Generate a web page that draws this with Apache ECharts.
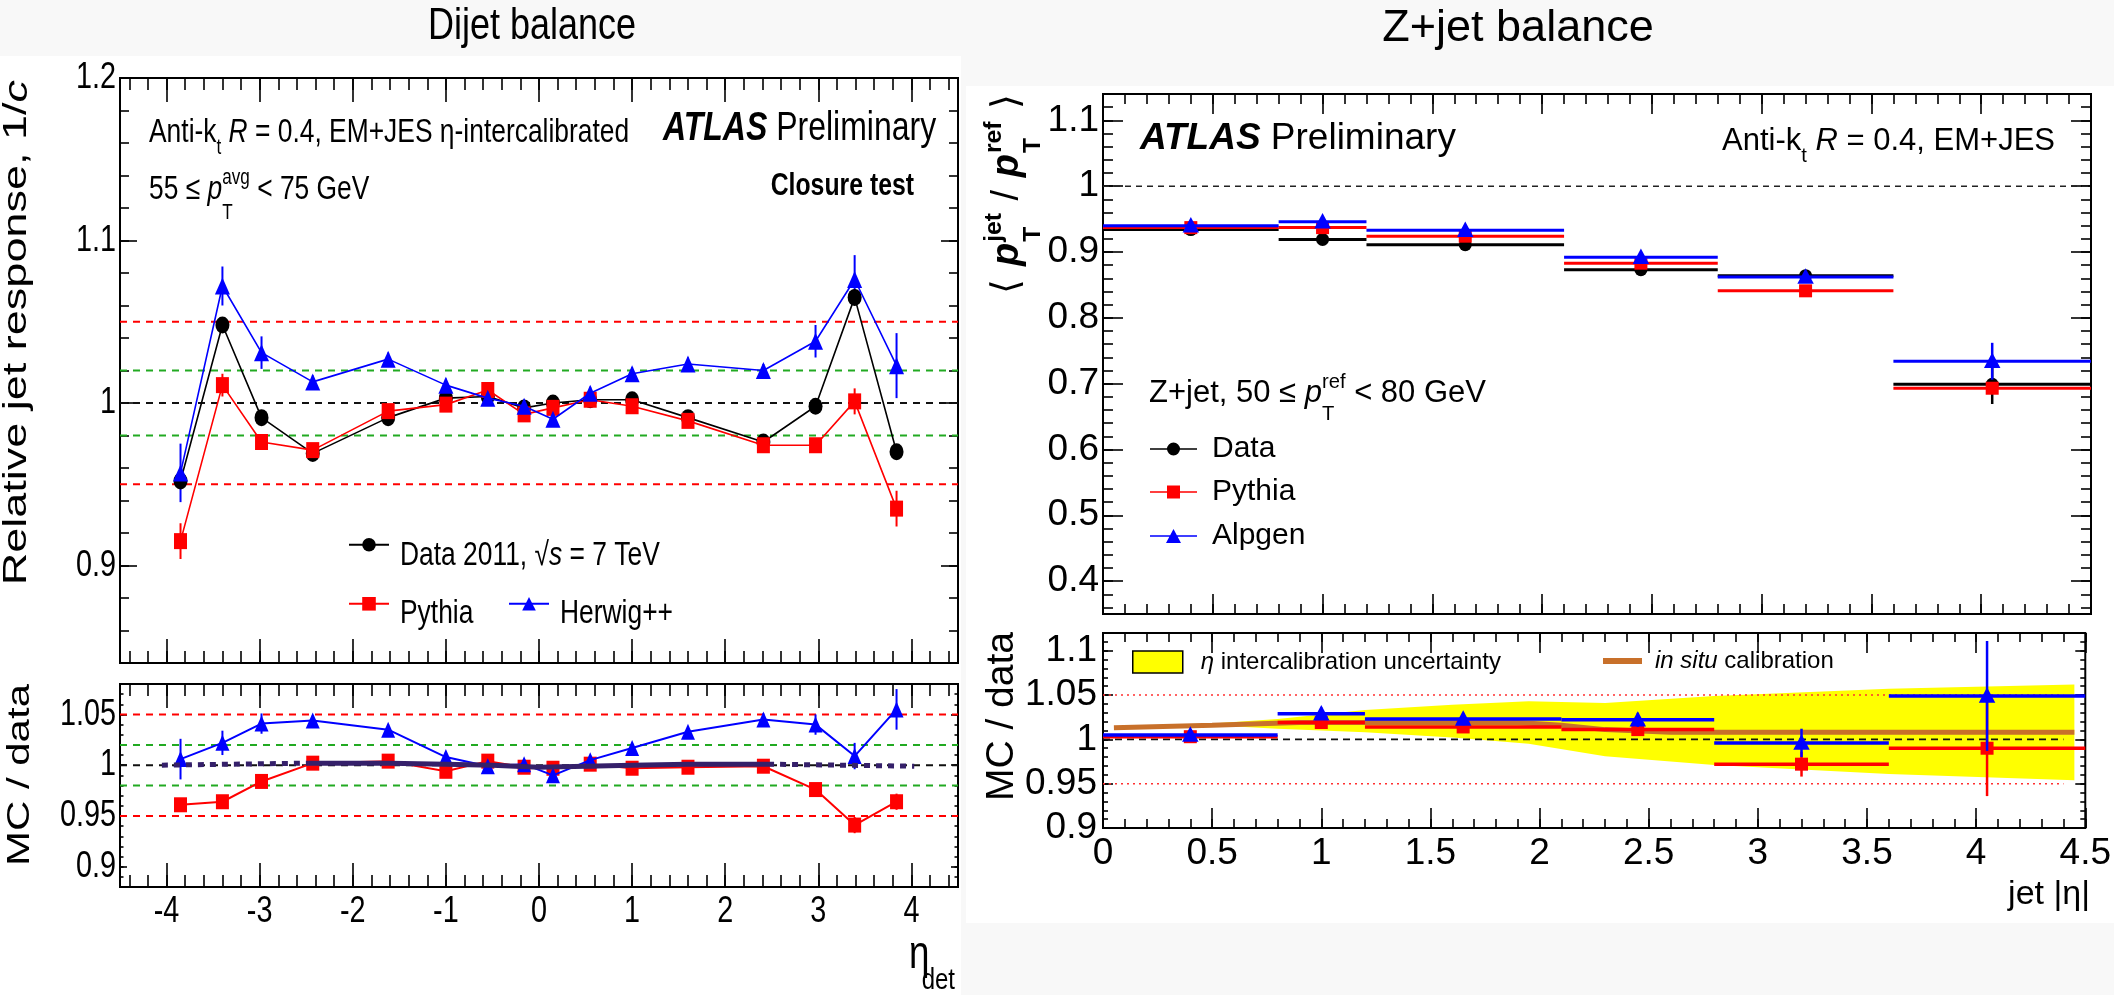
<!DOCTYPE html>
<html><head><meta charset="utf-8">
<script src="https://cdn.jsdelivr.net/npm/echarts@6/dist/echarts.min.js"></script>
<style>html,body{margin:0;padding:0;background:#f8f8f8}#c{width:2114px;height:995px}</style>
</head><body><div id="c"></div>
<script>
// ===================== DATA =====================
// Dijet balance (left)
const etaDet = [-3.85,-3.4,-2.98,-2.43,-1.62,-1.0,-0.55,-0.16,0.15,0.55,1.0,1.6,2.41,2.97,3.39,3.84];
const dijetData    = [0.952,1.048,0.991,0.969,0.991,1.003,1.004,0.997,1.000,1.002,1.002,0.991,0.976,0.998,1.065,0.970];
const dijetDataErr = [0.004,0.004,0.003,0.003,0.002,0.002,0.002,0.002,0.002,0.002,0.002,0.002,0.003,0.003,0.005,0.004];
const dijetPythia    = [0.915,1.011,0.976,0.971,0.995,0.999,1.008,0.993,0.997,1.002,0.998,0.989,0.974,0.974,1.001,0.935];
const dijetPythiaErr = [0.011,0.007,0.004,0.003,0.003,0.003,0.003,0.003,0.003,0.003,0.003,0.003,0.003,0.004,0.008,0.011];
const dijetHerwig    = [0.957,1.072,1.031,1.013,1.027,1.011,1.003,0.998,0.990,1.006,1.018,1.024,1.020,1.038,1.076,1.023];
const dijetHerwigErr = [0.018,0.012,0.010,0.004,0.004,0.004,0.004,0.004,0.004,0.004,0.004,0.004,0.004,0.010,0.015,0.020];
const ratioPythia    = [0.961,0.964,0.984,1.002,1.004,0.994,1.004,0.998,0.997,1.001,0.997,0.998,0.999,0.976,0.941,0.964];
const ratioPythiaErr = [0.006,0.006,0.005,0.004,0.004,0.004,0.004,0.004,0.004,0.004,0.004,0.004,0.004,0.005,0.008,0.008];
const ratioHerwig    = [1.006,1.022,1.041,1.044,1.035,1.008,0.999,1.001,0.990,1.005,1.017,1.033,1.045,1.040,1.009,1.055];
const ratioHerwigErr = [0.020,0.012,0.010,0.005,0.005,0.005,0.005,0.005,0.005,0.005,0.005,0.005,0.006,0.010,0.013,0.020];
const refEtaSolid = [-2.48,-1.6,-1.0,-0.5,0.0,0.5,1.0,1.6,2.46];
const refValSolid = [1.002,1.002,1.001,1.000,0.998,0.999,1.000,1.001,1.001];
const refEtaLeft = [-4.05,-2.48], refValLeft = [1.000,1.002];
const refEtaRight = [2.46,4.03],  refValRight = [1.001,0.999];
const dijetLevels = [1.05,0.95,1.02,0.98,1.0];
// tick labels of the (horizontally compressed) dijet panel
const leftTopYTicks = [0.9,1.0,1.1,1.2];
const leftBottomYTicks = [0.9,0.95,1.0,1.05];
const leftXTicks = [-4,-3,-2,-1,0,1,2,3,4];

// Z+jet balance (right)
const binLo = [0,0.8,1.2,2.1,2.8,3.6];
const binHi = [0.8,1.2,2.1,2.8,3.6,4.5];
const binCenter = [0.4,1.0,1.65,2.45,3.2,4.05];
const zData      = [0.934,0.919,0.911,0.873,0.864,0.699];
const zDataErr   = [0.003,0.004,0.004,0.004,0.005,0.030];
const zPythia    = [0.937,0.937,0.924,0.883,0.841,0.693];
const zPythiaErr = [0.004,0.004,0.004,0.004,0.005,0.008];
const zAlpgen    = [0.940,0.946,0.933,0.892,0.862,0.734];
const zAlpgenErr = [0.006,0.006,0.006,0.006,0.008,0.028];
const zRatioPythia    = [1.003,1.019,1.014,1.011,0.972,0.990];
const zRatioPythiaErr = [0.005,0.006,0.006,0.006,0.014,0.054];
const zRatioAlpgen    = [1.005,1.029,1.023,1.022,0.996,1.049];
const zRatioAlpgenErr = [0.006,0.007,0.007,0.008,0.016,0.062];
const bandEta = [0.5,0.8,1.2,1.6,1.95,2.3,2.8,3.6,4.45];
const bandLo  = [1.016,1.012,1.008,1.002,0.995,0.981,0.971,0.961,0.954];
const bandHi  = [1.018,1.023,1.033,1.039,1.043,1.041,1.049,1.057,1.062];
const insituEta = [0.05,0.5,0.9,1.5,1.9,2.1,2.3,2.6,4.45];
const insituVal = [1.013,1.016,1.019,1.019,1.019,1.016,1.011,1.008,1.008];

// ===================== HELPERS =====================
const FAM = "'Liberation Sans', Arial, Helvetica, sans-serif";
const RED = '#ff0000', BLUE = '#0000ff', BLACK = '#000000', GREEN = '#22aa22', ORANGE = '#c8702a', YELLOW = '#ffff00', DARK = '#35206a';
const SX = 0.8; // the dijet panel is horizontally compressed
const cv = document.createElement('canvas').getContext('2d');
function fstr(size, o) { return (o.it ? 'italic ' : '') + (o.b ? 'bold ' : '') + size.toFixed(1) + 'px ' + FAM; }
function measure(t, f) { cv.font = f; return cv.measureText(t).width; }
function textRun(parts, size, opt) {
  const ls = opt.ls || 0, fill = opt.fill || '#000';
  const subOff = opt.subOff || 0.36, bothOff = opt.bothOff || 0.55;
  const kids = []; let x = 0;
  const put = (t, f, sz, dx, dy) => kids.push({type:'text', x:dx, y:dy - 0.35*sz, silent:true,
    style:{text:t, font:f, fill:fill, align:'left', verticalAlign:'middle', textAlign:'left', textVerticalAlign:'middle'}});
  for (let p of parts) {
    if (typeof p === 'string') p = {t:p};
    if (p.sub != null || p.sup != null) {
      const s = size*0.65, f = fstr(s, p); let wm = 0;
      const both = p.sub != null && p.sup != null;
      if (p.sub != null) { put(p.sub, f, s, x, size*(both ? bothOff : subOff)); wm = Math.max(wm, measure(p.sub, f)); }
      if (p.sup != null) { put(p.sup, f, s, x, -size*0.47); wm = Math.max(wm, measure(p.sup, f)); }
      x += wm + ls;
    } else {
      const f = fstr(size, p);
      if (ls) { for (const ch of p.t) { put(ch, f, size, x, 0); x += measure(ch, f) + ls; } }
      else { put(p.t, f, size, x, 0); x += measure(p.t, f); }
    }
  }
  if (ls) x -= ls;
  return {kids, w:x};
}
function label(x, y, parts, size, opt) {
  opt = opt || {};
  const r = textRun(parts, size, opt);
  const off = opt.align === 'right' ? -r.w : opt.align === 'center' ? -r.w/2 : 0;
  r.kids.forEach(k => { k.x += off; });
  return {type:'group', x:x, y:y, rotation:opt.rot || 0, scaleX:opt.sx || 1, scaleY:opt.sy || 1, children:r.kids, silent:true, z:100};
}

const gridBoxes = [
  {left:120, top:78, width:838, height:585},
  {left:120, top:684, width:838, height:203},
  {left:1103, top:94, width:988, height:520},
  {left:1103, top:633, width:988, height:195}
];
const axisSpec = [
  {x:{min:-4.5,max:4.5,major:1,minor:0.2,maj:24,mn:12,labels:false}, y:{min:0.84,max:1.2,major:0.1,minor:0.02,maj:17,mn:9,labels:false}},
  {x:{min:-4.5,max:4.5,major:1,minor:0.2,maj:24,mn:12,labels:false}, y:{min:0.88,max:1.08,major:0.05,minor:0.01,maj:7,mn:3.5,labels:false}},
  {x:{min:0,max:4.5,major:0.5,minor:0.1,maj:20,mn:10,labels:false}, y:{min:0.35,max:1.14,major:0.1,minor:0.02,maj:20,mn:10,labels:true,size:37,margin:4}},
  {x:{min:0,max:4.5,major:0.5,minor:0.1,maj:20,mn:9,labels:true,size:37,margin:7}, y:{min:0.9,max:1.12,major:0.05,minor:0.01,maj:10,mn:5,labels:true,size:37,margin:6}}
];
function fmtTick(step) {
  return v => { const r = v/step; if (Math.abs(r - Math.round(r)) > 1e-6) return ''; return String(parseFloat(v.toFixed(4))); };
}
function makeAxes(dim, g, sp) {
  const out = [];
  const pos = dim === 'x' ? ['bottom','top'] : ['left','right'];
  pos.forEach((p, pi) => {
    [[sp.major, sp.maj, pi === 0 && sp.labels], [sp.minor, sp.mn, false]].forEach(([iv, len, lab]) => {
      out.push({
        type:'value', gridIndex:g, position:p, offset:0, min:sp.min, max:sp.max,
        minInterval:iv, maxInterval:iv, splitNumber:Math.round((sp.max - sp.min)/iv),
        axisLine:{show:false, onZero:false}, splitLine:{show:false}, splitArea:{show:false},
        axisTick:{show:true, inside:true, length:len, lineStyle:{color:'#000', width:1.6}},
        axisLabel:{show:lab, margin:sp.margin || 4, color:'#000', fontSize:sp.size || 34, fontFamily:FAM, formatter:fmtTick(sp.major)},
        axisPointer:{show:false}, silent:true
      });
    });
  });
  return out;
}
const xAxes = [], yAxes = [];
axisSpec.forEach((s, g) => { xAxes.push(...makeAxes('x', g, s.x)); yAxes.push(...makeAxes('y', g, s.y)); });

const series = [];
const AX = g => ({xAxisIndex:4*g, yAxisIndex:4*g});
function refLine(g, lvl, x0, x1, color, type, width) {
  series.push(Object.assign({type:'line', data:[[x0,lvl],[x1,lvl]], symbol:'none', silent:true, z:1,
    lineStyle:{color:color, width:width, type:type}, emphasis:{disabled:true}}, AX(g)));
}
function errSeries(g, xs, vals, errs, color, width) {
  series.push(Object.assign({type:'custom', silent:true, z:2, data:xs.map((x,i)=>[x, vals[i], errs[i]]), encode:{x:0, y:1},
    renderItem:(params, api) => {
      const x = api.value(0), y = api.value(1), e = api.value(2);
      const a = api.coord([x, y - e]), b = api.coord([x, y + e]);
      return {type:'line', shape:{x1:a[0], y1:a[1], x2:b[0], y2:b[1]}, style:{stroke:color, lineWidth:width}};
    }}, AX(g)));
}
function lineSeries(g, name, xs, vals, color, symbol, size, lw, z) {
  series.push(Object.assign({type:'line', name:name, data:xs.map((x,i)=>[x, vals[i]]), symbol:symbol, symbolSize:size,
    showSymbol:true, silent:true, z:z || 3, color:color, itemStyle:{color:color, borderWidth:0},
    lineStyle:{color:color, width:lw}, emphasis:{disabled:true}}, AX(g)));
}
function marker(shape, p, color, s) {
  if (shape === 'circle') return {type:'circle', shape:{cx:p[0], cy:p[1], r:s/2}, style:{fill:color}};
  if (shape === 'rect') return {type:'rect', shape:{x:p[0]-s/2, y:p[1]-s/2, width:s, height:s}, style:{fill:color}};
  return {type:'polygon', shape:{points:[[p[0], p[1]-s*0.58],[p[0]+s*0.55, p[1]+s*0.45],[p[0]-s*0.55, p[1]+s*0.45]]}, style:{fill:color}};
}
function binSeries(g, name, vals, errs, color, shape, msize, lw, z) {
  series.push(Object.assign({type:'custom', name:name, silent:true, z:z || 3, color:color, itemStyle:{color:color},
    data:binLo.map((lo,i)=>[lo, binHi[i], binCenter[i], vals[i], errs[i]]), encode:{x:[0,1], y:3},
    renderItem:(params, api) => {
      const lo = api.value(0), hi = api.value(1), c = api.value(2), v = api.value(3), e = api.value(4);
      const p0 = api.coord([lo, v]), p1 = api.coord([hi, v]), pc = api.coord([c, v]);
      const e0 = api.coord([c, v - e]), e1 = api.coord([c, v + e]);
      return {type:'group', children:[
        {type:'line', shape:{x1:p0[0], y1:p0[1], x2:p1[0], y2:p1[1]}, style:{stroke:color, lineWidth:lw}},
        {type:'line', shape:{x1:e0[0], y1:e0[1], x2:e1[0], y2:e1[1]}, style:{stroke:color, lineWidth:2.5}},
        marker(shape, pc, color, msize)
      ]};
    }}, AX(g)));
}

// ---- left top ----
refLine(0, dijetLevels[0], -4.5, 4.5, RED, [7,6], 2);
refLine(0, dijetLevels[1], -4.5, 4.5, RED, [7,6], 2);
refLine(0, dijetLevels[2], -4.5, 4.5, GREEN, [7,6], 2);
refLine(0, dijetLevels[3], -4.5, 4.5, GREEN, [7,6], 2);
refLine(0, dijetLevels[4], -4.5, 4.5, '#111', [7,6], 2);
const DATA_NAME = 'Data 2011, √s = 7 TeV';
lineSeries(0, DATA_NAME, etaDet, dijetData, BLACK, 'circle', [14,17], 1.6, 3);
errSeries(0, etaDet, dijetData, dijetDataErr, BLACK, 2);
lineSeries(0, 'Pythia', etaDet, dijetPythia, RED, 'rect', [13,16], 1.6, 4);
errSeries(0, etaDet, dijetPythia, dijetPythiaErr, RED, 2);
lineSeries(0, 'Herwig++', etaDet, dijetHerwig, BLUE, 'triangle', [15,17], 1.6, 5);
errSeries(0, etaDet, dijetHerwig, dijetHerwigErr, BLUE, 2);

// ---- left bottom ----
refLine(1, dijetLevels[0], -4.5, 4.5, RED, [7,6], 2);
refLine(1, dijetLevels[1], -4.5, 4.5, RED, [7,6], 2);
refLine(1, dijetLevels[2], -4.5, 4.5, GREEN, [7,6], 2);
refLine(1, dijetLevels[3], -4.5, 4.5, GREEN, [7,6], 2);
refLine(1, dijetLevels[4], -4.5, 4.5, '#111', [7,6], 2);
lineSeries(1, 'Pythia / data', etaDet, ratioPythia, RED, 'rect', [13,15], 2, 3);
errSeries(1, etaDet, ratioPythia, ratioPythiaErr, RED, 2);
lineSeries(1, 'Herwig++ / data', etaDet, ratioHerwig, BLUE, 'triangle', [14,16], 2, 4);
errSeries(1, etaDet, ratioHerwig, ratioHerwigErr, BLUE, 2);
series.push(Object.assign({type:'line', data:refEtaLeft.map((x,i)=>[x, refValLeft[i]]), symbol:'none', silent:true, z:6,
  lineStyle:{color:DARK, width:5, type:[6,6]}, emphasis:{disabled:true}}, AX(1)));
series.push(Object.assign({type:'line', data:refEtaRight.map((x,i)=>[x, refValRight[i]]), symbol:'none', silent:true, z:6,
  lineStyle:{color:DARK, width:5, type:[6,6]}, emphasis:{disabled:true}}, AX(1)));
series.push(Object.assign({type:'line', data:refEtaSolid.map((x,i)=>[x, refValSolid[i]]), symbol:'none', silent:true, z:6,
  lineStyle:{color:DARK, width:5}, emphasis:{disabled:true}}, AX(1)));

// ---- right top ----
refLine(2, 1.0, 0, 4.5, '#222', [6,5], 1.5);
binSeries(2, 'Data', zData, zDataErr, BLACK, 'circle', 13, 3, 3);
binSeries(2, 'Pythia', zPythia, zPythiaErr, RED, 'rect', 13, 3, 4);
binSeries(2, 'Alpgen', zAlpgen, zAlpgenErr, BLUE, 'triangle', 15, 3, 5);

// ---- right bottom ----
const BAND_NAME = 'η intercalibration uncertainty';
series.push(Object.assign({type:'custom', name:BAND_NAME, silent:true, z:1, color:YELLOW, itemStyle:{color:YELLOW},
  data:bandEta.map((x,i)=>[x, bandLo[i], bandHi[i]]), encode:{x:0, y:[1,2]},
  renderItem:(params, api) => {
    if (params.dataIndex !== 0) return null;
    const up = bandEta.map((x,i)=>api.coord([x, bandHi[i]]));
    const dn = bandEta.map((x,i)=>api.coord([x, bandLo[i]])).reverse();
    return {type:'polygon', shape:{points:up.concat(dn)}, style:{fill:YELLOW}};
  }}, AX(3)));
refLine(3, 1.05, 0, 4.4, '#ff3030', [2,4], 1.6);
refLine(3, 0.95, 0, 4.4, '#ff3030', [2,4], 1.6);
refLine(3, 1.0, 0, 4.4, '#111', [7,5], 1.6);
const INSITU_NAME = 'in situ calibration';
series.push(Object.assign({type:'line', name:INSITU_NAME, data:insituEta.map((x,i)=>[x, insituVal[i]]), symbol:'none', silent:true, z:2,
  color:ORANGE, lineStyle:{color:ORANGE, width:5}, emphasis:{disabled:true}}, AX(3)));
binSeries(3, 'Pythia / data (Z)', zRatioPythia, zRatioPythiaErr, RED, 'rect', 13, 3.5, 3);
binSeries(3, 'Alpgen / data (Z)', zRatioAlpgen, zRatioAlpgenErr, BLUE, 'triangle', 15, 3.5, 4);

// ---- legends ----
const ICON_CIRCLE = 'path://M0,6.2H47V7.8H0Z M17,7A6.5,6.5 0 1,1 30,7A6.5,6.5 0 1,1 17,7Z';
const ICON_SQUARE = 'path://M0,6.2H47V7.8H0Z M17,0.5H30V13.5H17Z';
const ICON_TRI = 'path://M0,6.2H47V7.8H0Z M23.5,0L31,14L16,14Z';
function leg(name, left, top, o) {
  const fs = o.fs || 29, lh = o.lh || 30;
  const L = {show:true, data:[name], left:left, top:top, orient:'horizontal', padding:0, itemGap:0, selectedMode:false,
    itemWidth:o.w, itemHeight:o.h, textStyle:{color:'#000', fontSize:fs, fontFamily:FAM, lineHeight:lh, padding:[0,0,0,o.pad],
      rich:{i:{fontStyle:'italic', fontSize:fs, fontFamily:FAM, lineHeight:lh, color:'#000'}}},
    formatter:o.fmt || (n => n)};
  if (o.icon) L.icon = o.icon;
  if (o.itemStyle) L.itemStyle = o.itemStyle;
  return L;
}
const noText = () => '';
const legends = [
  // dijet legends: icons from the legend, text drawn compressed below
  leg(DATA_NAME, 348, 538, {w:40, h:17, pad:0, fs:10, lh:34, fmt:noText}),
  leg('Pythia', 348, 597, {w:40, h:17, pad:0, fs:10, lh:34, fmt:noText}),
  leg('Herwig++', 508, 597, {w:40, h:17, pad:0, fs:10, lh:34, fmt:noText}),
  leg('Data', 1150, 434, {w:47, h:14, pad:10, fs:30, icon:ICON_CIRCLE}),
  leg('Pythia', 1150, 477, {w:47, h:14, pad:10, fs:30, icon:ICON_SQUARE}),
  leg('Alpgen', 1150, 521, {w:47, h:14, pad:10, fs:30, icon:ICON_TRI}),
  leg(BAND_NAME, 1132, 649, {w:50, h:22, pad:13, fs:24, lh:26, icon:'rect', itemStyle:{borderColor:'#000', borderWidth:1.5}, fmt:() => '{i|η} intercalibration uncertainty'}),
  leg(INSITU_NAME, 1603, 648, {w:39, h:6, pad:8, fs:24, lh:26, icon:'rect', fmt:() => '{i|in situ} calibration'})
];

// ---- text graphics ----
const graphics = [
  {type:'rect', shape:{x:0, y:56, width:961, height:939}, style:{fill:'#ffffff'}, z:-10, silent:true},
  {type:'rect', shape:{x:966, y:86, width:1148, height:837}, style:{fill:'#ffffff'}, z:-10, silent:true},
  label(532, 42, ['Dijet balance'], 45, {align:'center', sx:SX}),
  label(1518, 44, ['Z+jet balance'], 45, {align:'center'}),
  // left panel
  label(149, 144, ['Anti-k', {sub:'t'}, ' ', {t:'R', it:true}, ' = 0.4, EM+JES η-intercalibrated'], 33, {sx:SX}),
  label(149, 201, ['55 ≤ ', {t:'p', it:true}, {sub:'T', sup:'avg'}, ' < 75 GeV'], 33, {sx:SX, bothOff:0.6}),
  label(663, 143, [{t:'ATLAS', it:true, b:true}, ' Preliminary'], 40, {sx:SX}),
  label(914, 197, [{t:'Closure test', b:true}], 31, {align:'right', sx:SX}),
  label(400, 567, ['Data 2011, √', {t:'s', it:true}, ' = 7 TeV'], 33, {sx:SX}),
  label(400, 625, ['Pythia'], 33, {sx:SX}),
  label(560, 625, ['Herwig++'], 33, {sx:SX}),
  label(29, 80, ['Relative jet response, 1/', {t:'c', it:true}], 45, {align:'right', rot:Math.PI/2, sy:0.75}),
  label(31, 684, ['MC / data'], 42, {align:'right', rot:Math.PI/2, sy:0.76}),
  label(909, 971, ['η'], 46, {sx:SX}),
  label(955, 991, ['det'], 30, {align:'right', sx:SX}),
  // right panel
  label(1140, 152, [{t:'ATLAS', it:true, b:true}, ' Preliminary'], 37),
  label(2055, 152, ['Anti-k', {sub:'t'}, ' ', {t:'R', it:true}, ' = 0.4, EM+JES'], 31, {align:'right'}),
  label(1149, 404, ['Z+jet, 50 ≤ ', {t:'p', it:true}, {sub:'T', sup:'ref'}, ' < 80 GeV'], 31),
  label(1021, 94, ['⟨ ', {t:'p', it:true, b:true}, {sub:'T', sup:'jet', b:true}, ' / ', {t:'p', it:true, b:true}, {sub:'T', sup:'ref', b:true}, ' ⟩'], 38, {align:'right', rot:Math.PI/2, ls:1}),
  label(1016, 632, ['MC / data'], 39, {align:'right', rot:Math.PI/2}),
  label(2090, 907, ['jet |η|'], 34, {align:'right'})
];

const chart = echarts.init(document.getElementById('c'), null, {renderer:'canvas', width:2114, height:995});
chart.setOption({
  animation:false,
  backgroundColor:'transparent',
  grid:gridBoxes.map(b => Object.assign({show:true, borderColor:'#000', borderWidth:2, backgroundColor:'transparent', containLabel:false}, b)),
  xAxis:xAxes, yAxis:yAxes,
  legend:legends,
  tooltip:{show:false},
  series:series
});

// compressed tick labels for the dijet panel, placed through the axes' own scales
const TL = 36;
const tickText = v => String(parseFloat(v.toFixed(4)));
const tickLabels = [];
leftTopYTicks.forEach(v => {
  const py = chart.convertToPixel({yAxisIndex:0}, v);
  tickLabels.push(label(gridBoxes[0].left - 4, py + 0.36*TL, [tickText(v)], TL, {align:'right', sx:SX}));
});
leftBottomYTicks.forEach(v => {
  const py = chart.convertToPixel({yAxisIndex:4}, v);
  tickLabels.push(label(gridBoxes[1].left - 4, py + 0.36*TL, [tickText(v)], TL, {align:'right', sx:SX}));
});
leftXTicks.forEach(v => {
  const px = chart.convertToPixel({xAxisIndex:4}, v);
  tickLabels.push(label(px, gridBoxes[1].top + gridBoxes[1].height + 25 + 0.36*TL, [tickText(v)], TL, {align:'center', sx:SX}));
});
chart.setOption({graphic:{elements:graphics.concat(tickLabels)}});
</script></body></html>
